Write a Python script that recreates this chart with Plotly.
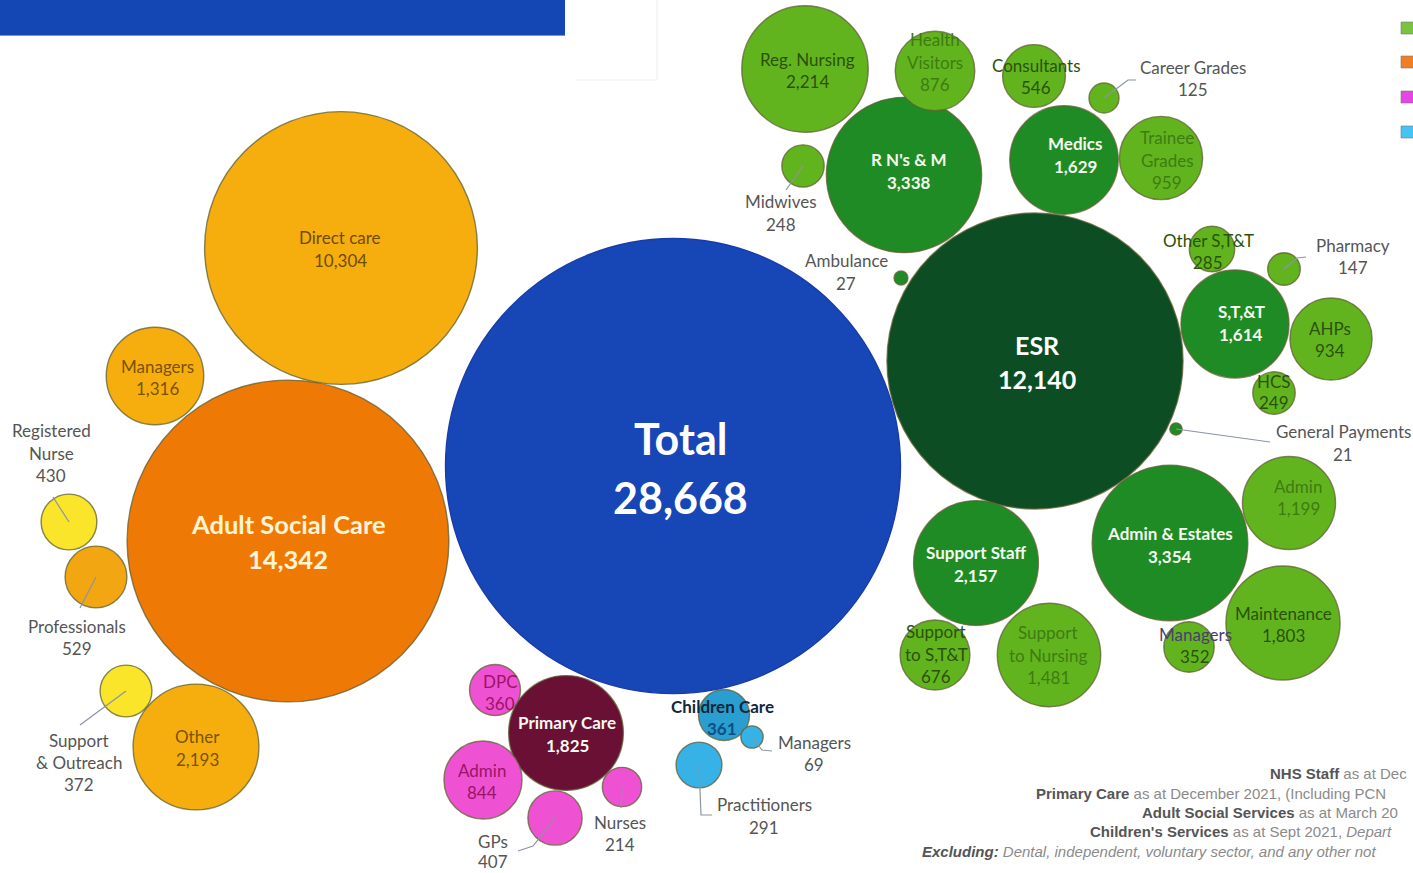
import math
import plotly.graph_objects as go

# ---------------- data: staff headcount by group ----------------
labels = [
    "Total", "Adult Social Care", "Direct care", "Managers", "Other", "Professionals",
    "Registered<br>Nurse", "Support<br>& Outreach",
    "ESR", "R N's & M", "Reg. Nursing", "Health<br>Visitors", "Midwives", "Ambulance",
    "Medics", "Consultants", "Career Grades", "Trainee<br>Grades",
    "S,T,&T", "Other S,T&T", "Pharmacy", "AHPs", "HCS", "General Payments",
    "Admin & Estates", "Admin", "Maintenance", "Managers", "Support Staff",
    "Support<br>to S,T&T", "Support<br>to Nursing",
    "Primary Care", "DPC", "Admin", "GPs", "Nurses",
    "Children Care", "Managers", "Practitioners",
]
staff = [
    28668, 14342, 10304, 1316, 2193, 529,
    430, 372,
    12140, 3338, 2214, 876, 248, 27,
    1629, 546, 125, 959,
    1614, 285, 147, 934, 249, 21,
    3354, 1199, 1803, 352, 2157,
    676, 1481,
    1825, 360, 844, 407, 214,
    361, 69, 291,
]

notes = [
    ("NHS Staff", " as at Dec", ""),
    ("Primary Care", " as at December 2021, (Including PCN", ""),
    ("Adult Social Services", " as at March 20", ""),
    ("Children's Services", " as at Sept 2021, ", "Depart"),
    ("Excluding:", " Dental, independent, voluntary sector, and any other not", ""),
]

# ---------------- layout of the packed bubbles (pixel space) ----------------
W, H = 1413, 873
R_TOTAL = 227.5  # radius of the largest bubble; others scale by area

cx = [673, 288, 341, 155, 196, 96, 69, 126,
      1035, 904, 805, 935, 803, 901, 1064, 1034, 1104, 1161,
      1235, 1212, 1284, 1331, 1274, 1176,
      1170, 1289, 1283, 1189, 976, 935, 1049,
      566, 495, 483, 555, 622,
      724, 752, 699]
cy = [466, 541, 248, 376, 747, 577, 522, 691,
      361, 175, 69, 71, 166, 278, 160, 76, 98, 158,
      324, 249, 269, 339, 393, 429,
      543, 503, 623, 647, 563, 655, 655,
      733, 690, 780, 818, 787,
      715, 737, 765]

BLUE, ESR_G, MID_G, LIGHT_G = "#1746B6", "#0C4D23", "#1F8B24", "#62B41E"
ORANGE, AMBER, AMBER2, YELLOW = "#EE7A05", "#F6AE0E", "#F2A612", "#FAE52A"
MAROON, PINK, CYAN_D, CYAN_L = "#6A1034", "#EE52D2", "#2A9ED0", "#36B2E6"

fills = [BLUE, ORANGE, AMBER, AMBER, AMBER, AMBER2, YELLOW, YELLOW,
         ESR_G, MID_G, LIGHT_G, LIGHT_G, LIGHT_G, MID_G, MID_G, LIGHT_G, LIGHT_G, LIGHT_G,
         MID_G, LIGHT_G, LIGHT_G, LIGHT_G, LIGHT_G, MID_G,
         MID_G, LIGHT_G, LIGHT_G, LIGHT_G, MID_G, LIGHT_G, LIGHT_G,
         MAROON, PINK, PINK, PINK, PINK,
         CYAN_D, CYAN_L, CYAN_L]

GREY = ["#555555"]
WHITE = ["#F4F9EE"]
DOLIVE = ["#2A520A"]
OLIVE = ["#3E7C12"]
PINK_T = ["#9A1468"]
BROWN = ["#7A5200"]

S = 17      # regular label size
B = 17      # bold label size

# label placement: centre x, centre y, font size, line colours, bold, line spacing
label_style = {
    0: (680, 468, 43, ["#FFFFFF"], True, 59),
    1: (288, 541, 25.5, ["#FFF4D6"], True, 35),
    2: (340, 249, S, ["#6E4B00"], False, 23),
    3: (157, 377, S, BROWN, False, 22),
    4: (197, 748, S, BROWN, False, 23),
    5: (77, 637, S, GREY, False, 22),
    6: (51, 453, S, GREY, False, 22.5),
    7: (79, 762, S, GREY, False, 22),
    8: (1037, 362, 25, ["#FFFFFF"], True, 34),
    9: (909, 171, B, WHITE, True, 23),
    10: (807, 70, S, DOLIVE, False, 22),
    11: (935, 62, S, OLIVE, False, 22.5),
    12: (781, 213, S, GREY, False, 23),
    13: (846, 272, S, GREY, False, 23),
    14: (1075, 155, B, WHITE, True, 23),
    15: (1036, 76, S, DOLIVE, False, 22),
    16: (1193, 78, S, GREY, False, 22),
    17: (1167, 160, S, OLIVE, False, 22.5),
    18: (1241, 323, B, WHITE, True, 23),
    19: (1208, 251, S, DOLIVE, False, 22),
    20: (1353, 256, S, GREY, False, 22),
    21: (1330, 339, S, DOLIVE, False, 22),
    22: (1274, 392, S, DOLIVE, False, 21),
    23: (1343, 443, S, GREY, False, 23),
    24: (1170, 545, B, WHITE, True, 23),
    25: (1298, 497, S, OLIVE, False, 22),
    26: (1283, 624, S, DOLIVE, False, 22),
    27: (1195, 645, S, ["#4A4070", "#2A520A"], False, 22),
    28: (976, 564, B, WHITE, True, 23),
    29: (936, 654, S, DOLIVE, False, 22.5),
    30: (1048, 655, S, OLIVE, False, 22.5),
    31: (567, 734, B, WHITE, True, 23),
    32: (500, 692, S, PINK_T, False, 22),
    33: (482, 781, S, PINK_T, False, 22),
    34: (493, 851, S, GREY, False, 20),
    35: (620, 833, S, GREY, False, 22),
    36: (722, 717, B, ["#14263A", "#0E4F86"], True, 22),
    37: (814, 753, S, GREY, False, 22),
    38: (764, 816, S, GREY, False, 23),
}

# leader lines run from the bubble centre through these points
leaders = {
    6: [(53, 497)],
    5: [(80, 608)],
    7: [(80, 725)],
    12: [(786, 190)],
    16: [(1128, 80), (1136, 80)],
    20: [(1297, 258), (1306, 257)],
    23: [(1270, 442)],
    34: [(533, 846), (518, 851)],
    35: [(621, 808)],
    37: [(762, 750), (772, 751)],
    38: [(701, 815), (712, 815)],
}

FONT = "Lato, Carlito, Calibri, sans-serif"

# ---------------- figure ----------------
radius = [R_TOTAL * math.sqrt(v / staff[0]) for v in staff]
order = sorted(range(len(staff)), key=lambda i: -staff[i])

edge = ["rgba(25,60,170,1)" if i == 0 else "rgba(95,95,50,0.75)" for i in order]

fig = go.Figure()
fig.add_trace(go.Scatter(
    x=[cx[i] for i in order],
    y=[cy[i] for i in order],
    mode="markers",
    marker=dict(
        size=[2 * radius[i] for i in order],
        sizemode="diameter",
        color=[fills[i] for i in order],
        line=dict(color=edge, width=1.4),
        opacity=1,
    ),
    text=[f"{labels[i].replace('<br>', ' ')}: {staff[i]:,}" for i in order],
    hoverinfo="text",
    cliponaxis=False,
    showlegend=False,
))

# leader lines
for i, pts in leaders.items():
    xs = [cx[i]] + [p[0] for p in pts]
    ys = [cy[i]] + [p[1] for p in pts]
    fig.add_trace(go.Scatter(
        x=xs, y=ys, mode="lines",
        line=dict(color="#8A94A6", width=1.2),
        hoverinfo="skip", showlegend=False, cliponaxis=False,
    ))

annotations = []
for i, (lx, ly, size, colours, bold, gap) in label_style.items():
    lines = labels[i].split("<br>") + [f"{staff[i]:,}"]
    n = len(lines)
    for k, line in enumerate(lines):
        colour = colours[min(k, len(colours) - 1)]
        txt = f"<b>{line}</b>" if bold else line
        annotations.append(dict(
            x=lx, y=ly + (k - (n - 1) / 2) * gap,
            xref="x", yref="y", text=txt, showarrow=False,
            xanchor="center", yanchor="middle",
            font=dict(family=FONT, size=size, color=colour),
        ))

# source notes, bottom right
note_x = [1268, 1034, 1140, 1088, 920]
note_y = [773, 793, 812, 831, 851]
for (head, body, tail), nx, ny in zip(notes, note_x, note_y):
    if head == "Excluding:":
        txt = (f"<b><i>{head}</i></b><span style='color:#8A8A8A'><i>{body}</i></span>")
    else:
        txt = (f"<b>{head}</b><span style='color:#8A8A8A'>{body}<i>{tail}</i></span>")
    annotations.append(dict(
        x=nx, y=ny, xref="x", yref="y", text=txt, showarrow=False,
        xanchor="left", yanchor="middle",
        font=dict(family="Liberation Sans, Arial, sans-serif", size=15, color="#555555"),
    ))

shapes = [
    # title banner
    dict(type="rect", xref="x", yref="y", x0=0, x1=565, y0=0, y1=35,
         fillcolor="#1446B4", line=dict(width=0), layer="below"),
    dict(type="line", xref="x", yref="y", x0=0, x1=565, y0=35.5, y1=35.5,
         line=dict(color="rgba(10,40,120,0.5)", width=1), layer="below"),
    # faint frame edge next to the banner
    dict(type="line", xref="x", yref="y", x0=657, x1=657, y0=0, y1=80,
         line=dict(color="rgba(0,0,0,0.07)", width=1), layer="below"),
    dict(type="line", xref="x", yref="y", x0=575, x1=657, y0=80, y1=80,
         line=dict(color="rgba(0,0,0,0.05)", width=1), layer="below"),
]

# colour key swatches at the right edge
key_colours = ["#7BC142", "#EF7F22", "#E645E6", "#45C3F2"]
key_y = [28, 62, 97, 132]
for col, ky in zip(key_colours, key_y):
    shapes.append(dict(type="rect", xref="x", yref="y",
                       x0=1401, x1=1417, y0=ky - 6, y1=ky + 6,
                       fillcolor=col, line=dict(color="rgba(120,120,120,0.6)", width=1)))

fig.update_layout(
    width=W, height=H, autosize=False,
    margin=dict(l=0, r=0, t=0, b=0, pad=0),
    paper_bgcolor="white", plot_bgcolor="white",
    xaxis=dict(range=[0, W], visible=False, fixedrange=True),
    yaxis=dict(range=[H, 0], visible=False, fixedrange=True),
    shapes=shapes,
    annotations=annotations,
    showlegend=False,
)

fig.write_html("out.html", config={"displayModeBar": False})
